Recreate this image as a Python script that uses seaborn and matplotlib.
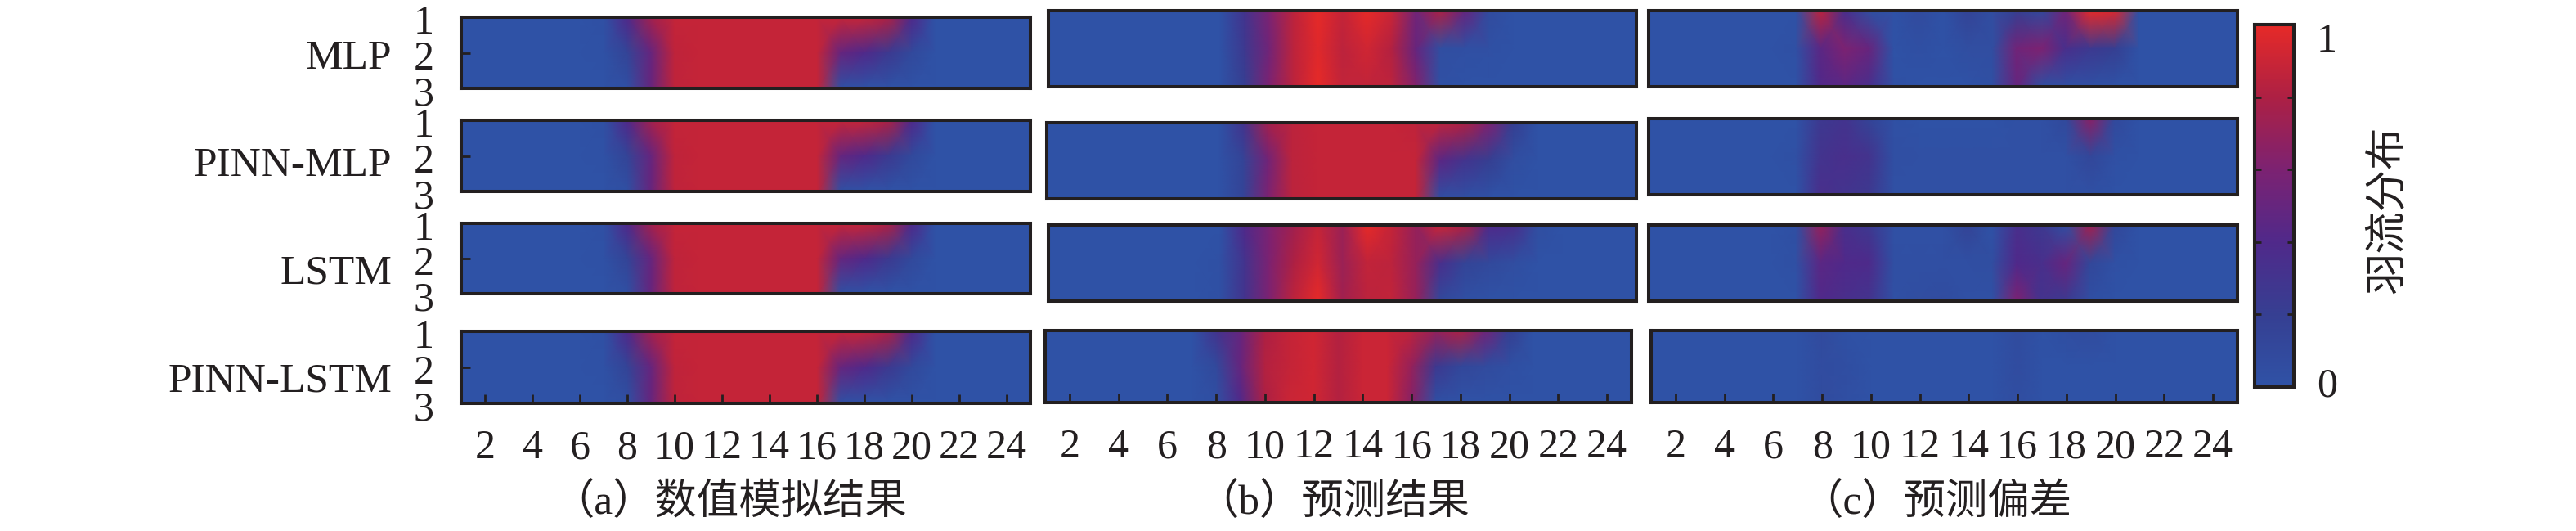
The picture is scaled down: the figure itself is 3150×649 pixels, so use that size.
import matplotlib
matplotlib.use("Agg")
import matplotlib.pyplot as plt
import matplotlib.transforms as mtrans
import pandas as pd
import seaborn as sns

W, H = 3150, 649
INK = "#231f20"
FONT = ["Liberation Serif", "Noto Sans CJK SC"]

models = ["MLP", "PINN-MLP", "LSTM", "PINN-LSTM"]
hours = list(range(1, 26))
levels = [1, 2, 3]
x_ticks = list(range(2, 26, 2))
captions = ["（a）数值模拟结果", "（b）预测结果", "（c）预测偏差"]
cbar_title = "羽流分布"

# numerical simulation, the same field for each model row
sim_result = [
    [0, 0, 0, 0, 0, 0, .02, .40, .75, .88, .88, .88, .88, .88, .88, .88, .88, .88, .80, .40, 0, 0, 0, 0, 0],
    [0, 0, 0, 0, 0, 0, .01, .15, .50, .86, .88, .88, .88, .88, .88, .88, .50, .40, .25, .10, 0, 0, 0, 0, 0],
    [0, 0, 0, 0, 0, 0, 0, .03, .50, .86, .88, .88, .88, .88, .88, .88, .02, 0, 0, 0, 0, 0, 0, 0, 0],
]

# predictions
pred_mlp = [
    [0, 0, 0, 0, 0, 0, 0, 0, .30, .60, .85, 1.0, .88, 1.0, .90, .55, .80, .50, .08, 0, 0, 0, 0, 0, 0],
    [0, 0, 0, 0, 0, 0, 0, 0, .25, .55, .85, .98, .85, .92, .82, .50, .05, .03, .02, 0, 0, 0, 0, 0, 0],
    [0, 0, 0, 0, 0, 0, 0, 0, .20, .60, .85, 1.0, .87, .87, .85, .62, .02, 0, 0, 0, 0, 0, 0, 0, 0],
]
pred_pinn_mlp = [
    [0, 0, 0, 0, 0, 0, 0, 0, .30, .75, .85, .88, .88, .88, .88, .86, .85, .80, .60, .20, 0, 0, 0, 0, 0],
    [0, 0, 0, 0, 0, 0, 0, 0, .15, .55, .85, .88, .88, .88, .88, .88, .45, .30, .20, .05, 0, 0, 0, 0, 0],
    [0, 0, 0, 0, 0, 0, 0, 0, .15, .60, .85, .88, .88, .88, .88, .88, .03, .02, 0, 0, 0, 0, 0, 0, 0],
]
pred_lstm = [
    [0, 0, 0, 0, 0, 0, 0, 0, .40, .60, .75, .88, .72, 1.0, .88, .70, .90, .80, .40, .35, .05, 0, 0, 0, 0],
    [0, 0, 0, 0, 0, 0, 0, .02, .30, .60, .80, .92, .72, .87, .85, .70, .35, .15, .10, .05, 0, 0, 0, 0, 0],
    [0, 0, 0, 0, 0, 0, 0, .02, .30, .60, .85, 1.0, .75, .85, .87, .70, .10, .02, 0, 0, 0, 0, 0, 0, 0],
]
pred_pinn_lstm = [
    [0, 0, 0, 0, 0, 0, 0, .30, .50, .80, .88, .92, .82, .90, .90, .85, .70, .80, .55, .20, 0, 0, 0, 0, 0],
    [0, 0, 0, 0, 0, 0, 0, .10, .50, .82, .88, .92, .82, .90, .90, .70, .25, .12, .08, .03, 0, 0, 0, 0, 0],
    [0, 0, 0, 0, 0, 0, 0, .03, .40, .80, .90, .92, .82, .90, .90, .65, .03, 0, 0, 0, 0, 0, 0, 0, 0],
]

# prediction bias
bias_mlp = [
    [0, 0, 0, 0, 0, 0, 0, .85, .35, .05, 0, .08, 0, .15, .05, .20, .10, .55, 1.0, .95, 0, 0, 0, 0, 0],
    [0, 0, 0, 0, 0, 0, .02, .45, .60, .50, 0, .03, 0, .05, .05, .55, .60, .35, .25, .20, 0, 0, 0, 0, 0],
    [0, 0, 0, 0, 0, 0, 0, .40, .45, .35, .02, 0, 0, 0, .03, .50, .05, .03, .02, 0, 0, 0, 0, 0, 0],
]
bias_pinn_mlp = [
    [0, 0, 0, 0, 0, 0, 0, .25, .30, .15, .02, 0, 0, 0, 0, .02, .02, .10, .65, .10, 0, 0, 0, 0, 0],
    [0, 0, 0, 0, 0, 0, .02, .30, .35, .30, .03, .02, .02, .02, .02, .02, .02, .02, .12, .02, 0, 0, 0, 0, 0],
    [0, 0, 0, 0, 0, 0, 0, .35, .30, .25, .02, .02, .02, .02, .02, .02, .02, .02, .02, 0, 0, 0, 0, 0, 0],
]
bias_lstm = [
    [0, 0, 0, 0, 0, 0, .03, .70, .35, .25, .02, .02, .02, .15, 0, .35, .25, .05, .75, .12, 0, 0, 0, 0, 0],
    [0, 0, 0, 0, 0, 0, .02, .45, .40, .38, .03, .03, .03, .03, .05, .40, .35, .50, .12, .02, 0, 0, 0, 0, 0],
    [0, 0, 0, 0, 0, 0, 0, .40, .35, .30, .02, .05, .06, .02, .02, .60, .30, .25, .03, 0, 0, 0, 0, 0, 0],
]
bias_pinn_lstm = [
    [0, 0, 0, 0, 0, 0, 0, .08, .01, 0, 0, 0, 0, 0, 0, .07, 0, .04, .07, 0, 0, 0, 0, 0, 0],
    [0, 0, 0, 0, 0, 0, 0, .06, .04, 0, 0, 0, 0, 0, 0, .06, 0, 0, 0, 0, 0, 0, 0, 0, 0],
    [0, 0, 0, 0, 0, 0, 0, .07, .03, 0, 0, 0, 0, 0, 0, .05, 0, 0, 0, 0, 0, 0, 0, 0, 0],
]

panels = [
    [sim_result, pred_mlp, bias_mlp],
    [sim_result, pred_pinn_mlp, bias_pinn_mlp],
    [sim_result, pred_lstm, bias_lstm],
    [sim_result, pred_pinn_lstm, bias_pinn_lstm],
]

# pixel boxes (left, top, right, bottom) of every panel, the source figure is not quite aligned
boxes = [
    [(564, 21, 1260, 108), (1282, 13, 2001, 106), (2016, 13, 2736, 106)],
    [(564, 147, 1260, 234), (1280, 150, 2001, 243), (2016, 145, 2736, 238)],
    [(564, 273, 1260, 359), (1282, 275, 2001, 368), (2016, 275, 2736, 368)],
    [(564, 405, 1260, 493), (1278, 404, 1995, 492), (2019, 404, 2736, 492)],
]
label_y = [72, 203, 334, 466]
caption_x = [892, 1630, 2368]

sns.set_theme(style="white")
plt.rcParams["font.family"] = FONT
plt.rcParams["axes.linewidth"] = 2.9
plt.rcParams["axes.edgecolor"] = INK
plt.rcParams["text.color"] = INK
plt.rcParams["xtick.color"] = INK
plt.rcParams["ytick.color"] = INK

cmap = sns.blend_palette(["#2f52a6", "#363f92", "#50298a", "#7c2272", "#ad2044", "#e62a28"], as_cmap=True)


def px_axes(fig, left, top, right, bottom):
    return fig.add_axes([left / W, 1 - bottom / H, (right - left) / W, (bottom - top) / H])


def shift_px(fig, dx, dy):
    return mtrans.ScaledTranslation(dx / fig.dpi, -dy / fig.dpi, fig.dpi_scale_trans)


fig = plt.figure(figsize=(W / 100, H / 100), dpi=100)
cax = px_axes(fig, 2757, 30, 2805, 473)

for r, row in enumerate(panels):
    for c, values in enumerate(row):
        ax = px_axes(fig, *boxes[r][c])
        df = pd.DataFrame(values, index=levels, columns=hours)
        is_last = r == 3 and c == 2
        sns.heatmap(df, ax=ax, cmap=cmap, vmin=0, vmax=1, shading="gouraud",
                    cbar=is_last, cbar_ax=cax if is_last else None)
        # gouraud mesh has its nodes on the integer positions
        ax.set_xlim(0, len(hours) - 1)
        ax.set_ylim(len(levels) - 1, 0)
        ax.set_axisbelow(False)
        for side in ax.spines.values():
            side.set_visible(True)
            side.set_linewidth(2.9)
            side.set_color(INK)

        if r == 3:
            ax.set_xticks([t - 1 for t in x_ticks])
            ax.set_xticklabels(x_ticks, rotation=0, fontsize=36)
            ax.tick_params(axis="x", direction="in", length=8, width=2, pad=23, bottom=True)
        else:
            ax.set_xticks([])
        ax.set_xlabel("")

        if c == 0:
            ax.set_yticks([v - 1 for v in levels])
            ax.set_yticklabels(levels, rotation=0, fontsize=36)
            ax.tick_params(axis="y", direction="in", length=8, width=2, pad=24, left=True)
            for lab in ax.get_yticklabels():
                lab.set_transform(lab.get_transform() + shift_px(fig, 0, 8))
        else:
            ax.set_yticks([])
        ax.set_ylabel("")

    fig.text(479 / W, 1 - label_y[r] / H, models[r], ha="right", va="center", fontsize=37)

for x, caption in zip(caption_x, captions):
    fig.text(x / W, 1 - 615 / H, caption, ha="center", va="center", fontsize=37)

cax.set_axisbelow(False)
cax.set_yticks([0, .2, .4, .6, .8, 1])
cax.set_yticklabels(["0", "", "", "", "", "1"], fontsize=36)
cax.tick_params(axis="y", direction="in", length=6, width=2, left=True, right=True,
                labelleft=False, labelright=True, pad=20)
for lab, dy in zip(cax.get_yticklabels(), [-6, 0, 0, 0, 0, 15]):
    lab.set_transform(lab.get_transform() + shift_px(fig, 0, dy))
for side in cax.spines.values():
    side.set_visible(True)
    side.set_linewidth(2.9)
    side.set_color(INK)
fig.text(2921 / W, 1 - 256 / H, cbar_title, rotation=90, ha="center", va="center", fontsize=37)

fig.savefig("out.png", dpi=100)
